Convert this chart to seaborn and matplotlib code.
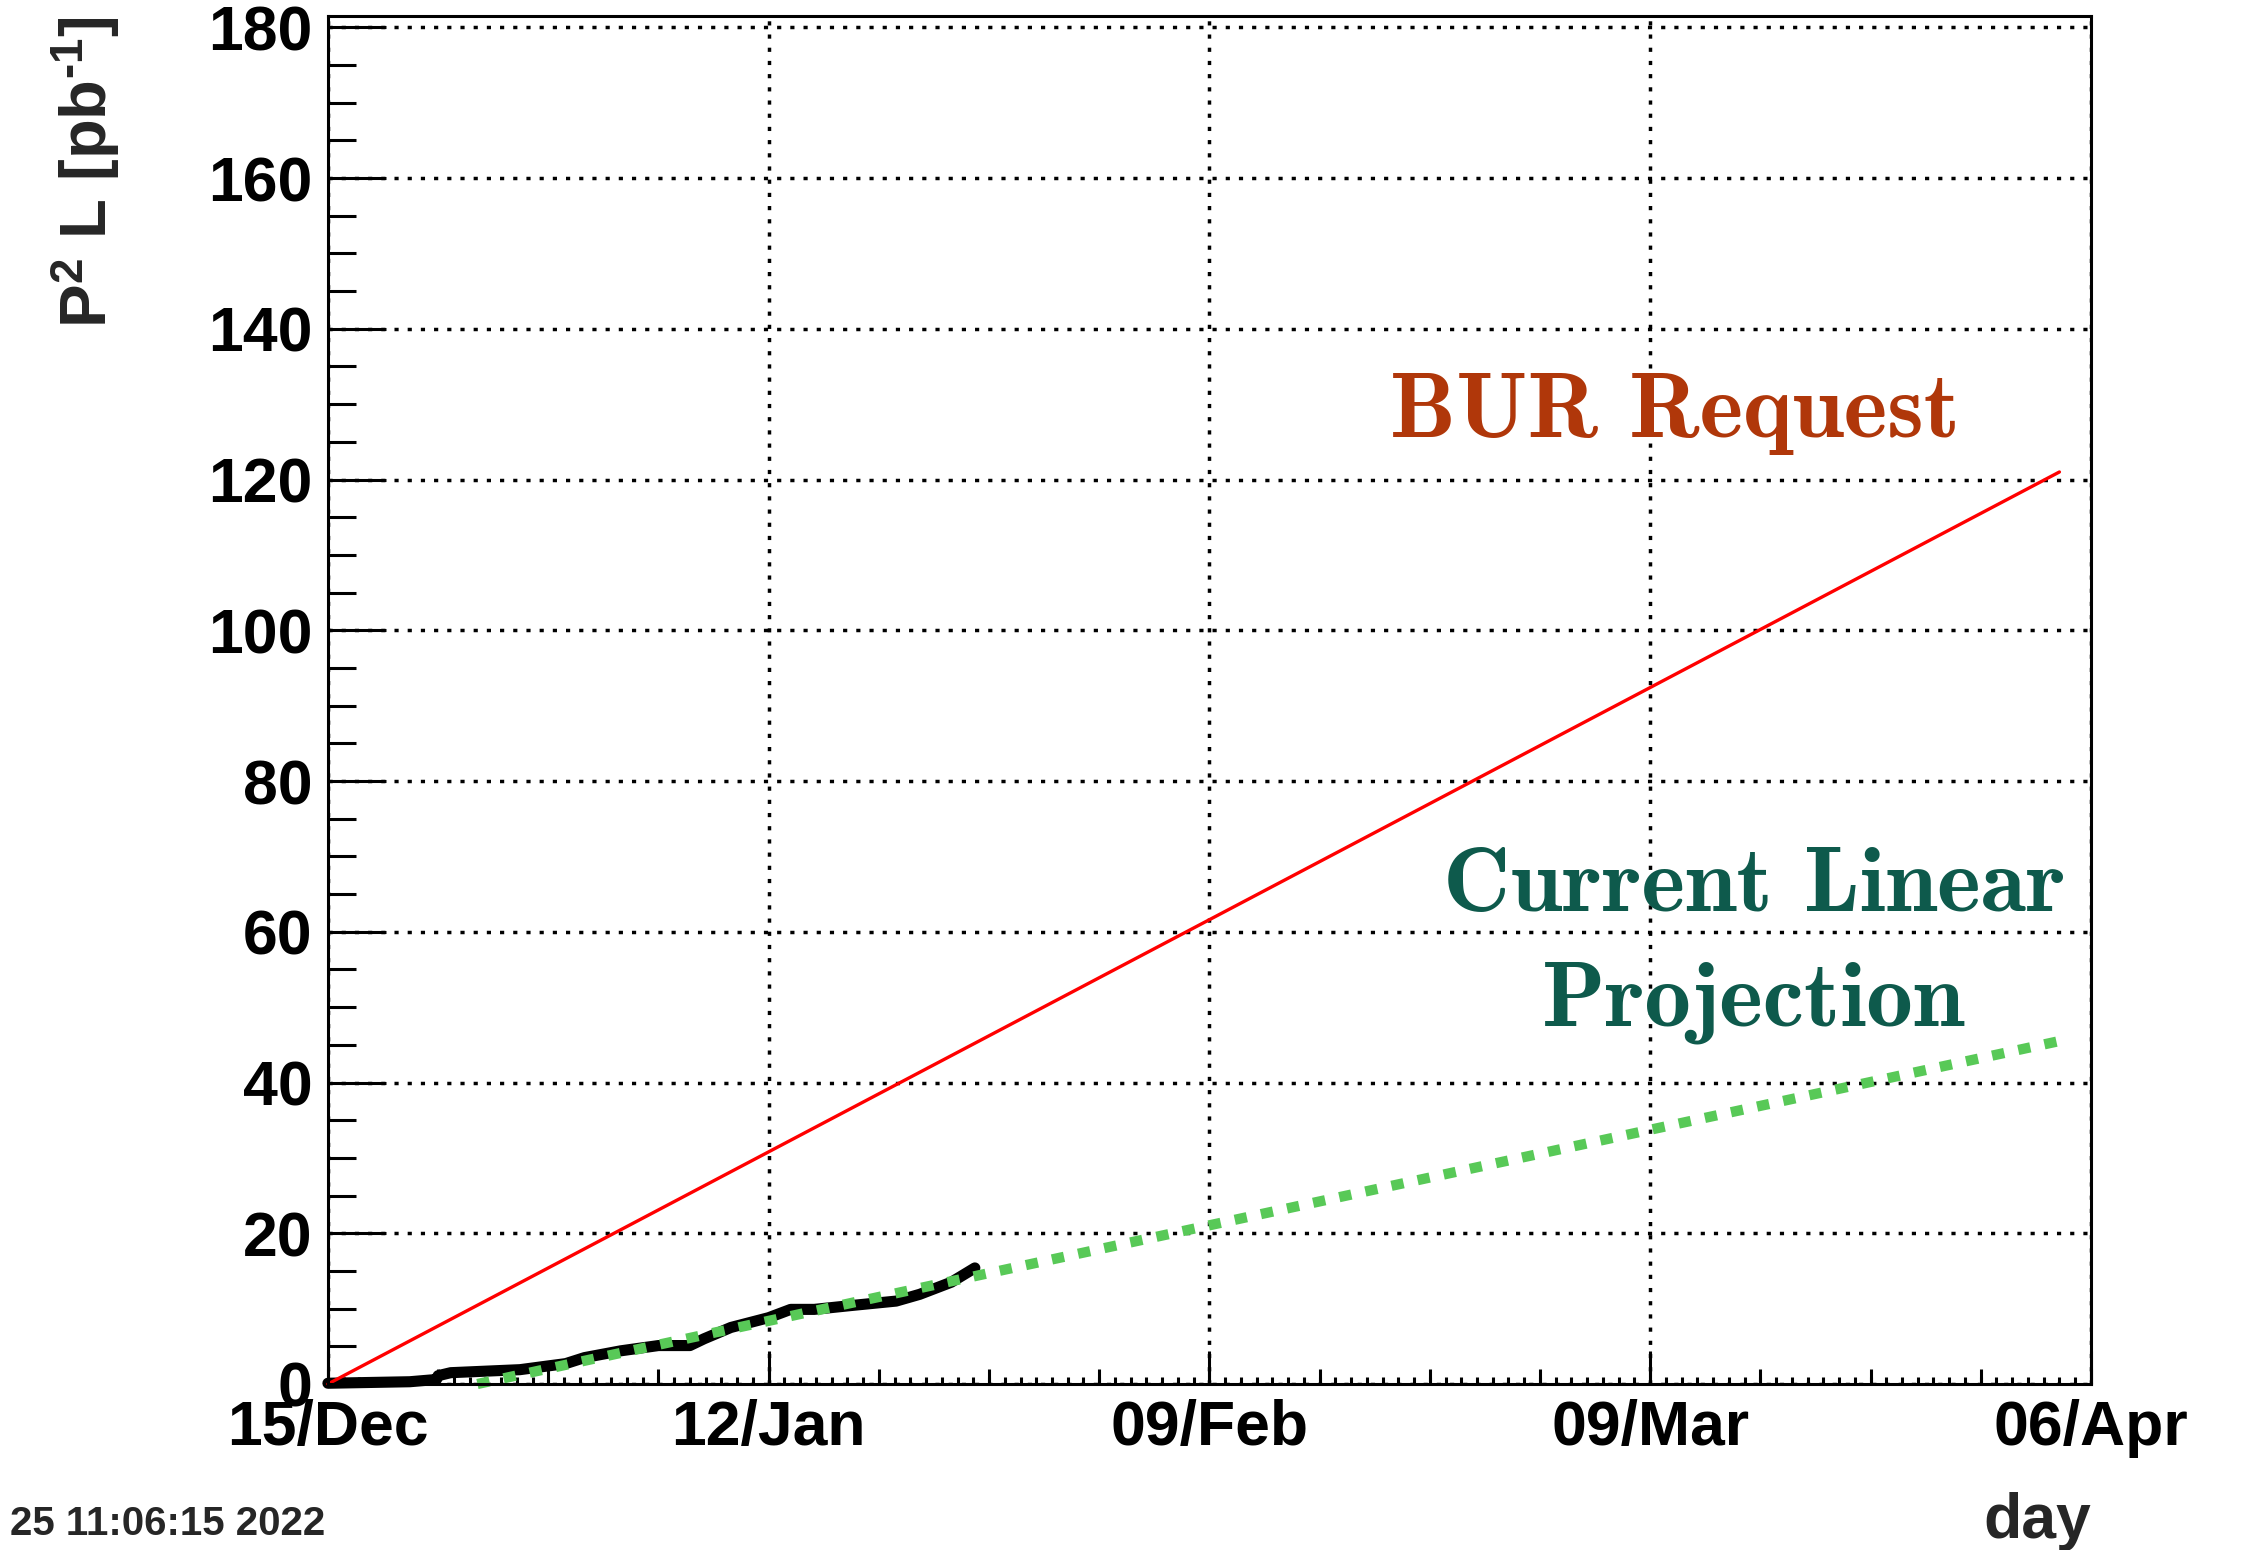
import numpy as np
import pandas as pd
import matplotlib
matplotlib.use("Agg")
import matplotlib.pyplot as plt
import seaborn as sns
from matplotlib.ticker import MultipleLocator, FixedLocator, NullFormatter

# Data (x = days since 15/Dec)

TICK_DAYS = [0, 28, 56, 84, 112]
TICK_LABELS = ["15/Dec", "12/Jan", "09/Feb", "09/Mar", "06/Apr"]

# delivered luminosity so far
LUMI_DAYS = [0, 5.2, 6.9, 7.0, 7.8, 12.2, 14.0, 15.1, 16.3, 18.6, 21.0, 23.0, 23.9,
             25.6, 28.0, 29.4, 30.9, 33.2, 36.1, 37.6, 39.6, 41.1]
LUMI_VALUES = [0.1, 0.3, 0.6, 1.1, 1.5, 1.9, 2.4, 2.7, 3.5, 4.4, 5.1, 5.1, 6.0,
               7.5, 8.8, 9.9, 9.9, 10.4, 11.0, 11.9, 13.5, 15.4]

# linear projection and beam use request
PROJ_DAYS = [9.5, 110.0]
PROJ_VALUES = [0.0, 45.5]
BUR_DAYS = [0.0, 110.0]
BUR_VALUES = [0.0, 121.0]

TIMESTAMP = "25 11:06:15 2022"

# Style

sns.set_theme(style="white")
plt.rcParams["font.family"] = ["Liberation Sans", "DejaVu Sans"]
plt.rcParams["font.weight"] = "bold"
plt.rcParams["mathtext.fontset"] = "custom"
plt.rcParams["mathtext.rm"] = "Liberation Sans:bold"
plt.rcParams["mathtext.bf"] = "Liberation Sans:bold"
plt.rcParams["mathtext.default"] = "bf"

fig = plt.figure(figsize=(22.49, 15.5), dpi=100)
ax = fig.add_axes([0.1458, 0.1071, 0.7839, 0.8826])

sns.lineplot(x=LUMI_DAYS, y=LUMI_VALUES, color="black", lw=8, ax=ax,
             clip_on=False, solid_joinstyle="round")
sns.lineplot(x=PROJ_DAYS, y=PROJ_VALUES, color="#58C957", lw=7.4, ax=ax,
             linestyle=(0, (1.2, 1.4)), clip_on=False)
sns.lineplot(x=BUR_DAYS, y=BUR_VALUES, color="#FF0000", lw=2.4, ax=ax,
             clip_on=False)

ax.set_xlim(0, 112)
ax.set_ylim(0, 181.5)

# axes / ticks
ax.xaxis.set_major_locator(FixedLocator(TICK_DAYS))
ax.set_xticklabels(TICK_LABELS)
ax.xaxis.set_minor_locator(MultipleLocator(1))
ax.yaxis.set_major_locator(MultipleLocator(20))
ax.yaxis.set_minor_locator(MultipleLocator(5))

ax.tick_params(axis="both", which="both", direction="in", width=2.2,
               colors="black", labelsize=45, top=False, right=False,
               bottom=True, left=True)
ax.tick_params(axis="y", which="major", length=42, pad=11)
ax.tick_params(axis="y", which="minor", length=20)
ax.tick_params(axis="x", which="major", length=24, pad=11)
ax.tick_params(axis="x", which="minor", length=5)

# weekly ticks on a secondary bottom axis
sec = ax.secondary_xaxis("bottom")
sec.xaxis.set_major_locator(MultipleLocator(7))
sec.xaxis.set_major_formatter(NullFormatter())
sec.tick_params(direction="in", length=11, width=2.2, color="black",
                bottom=True)
sec.spines["bottom"].set_visible(False)

for s in ax.spines.values():
    s.set_color("black")
    s.set_linewidth(2.2)
    s.set_visible(True)

ax.set_axisbelow(True)
ax.grid(True, which="major", color="black", lw=2.5, linestyle=(0, (1.2, 2.6)))

ax.set_ylabel(r"P$^{2}$ L [pb$^{\text{-}1}$]", fontsize=47, fontweight="bold",
              loc="top")
ax.yaxis.set_label_coords(-0.117, 1.0)
ax.set_xlabel("day", fontsize=45, fontweight="bold", loc="right")
ax.xaxis.set_label_coords(1.0, -0.079)

# annotations
ax.text(85.6, 125.7, "BUR Request", color="#B0370A", fontsize=67,
        family="cmb10", fontweight="normal", ha="center", va="baseline")
ax.text(90.6, 62.7, "Current Linear", color="#0E5A4C", fontsize=67,
        family="cmb10", fontweight="normal", ha="center", va="baseline")
ax.text(90.6, 47.5, "Projection", color="#0E5A4C", fontsize=67,
        family="cmb10", fontweight="normal", ha="center", va="baseline")

fig.text(0.0045, 0.0097, TIMESTAMP, fontsize=29, fontweight="bold",
         va="baseline", ha="left")

fig.savefig("out.png", dpi=100)
